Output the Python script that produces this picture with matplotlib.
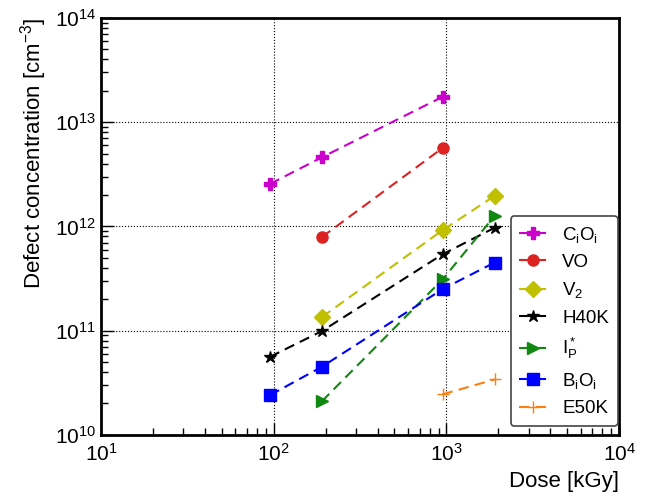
import matplotlib
matplotlib.use("Agg")
import matplotlib.pyplot as plt
from matplotlib.ticker import LogLocator, FixedLocator, NullFormatter

plt.rcParams['font.family'] = ['Liberation Sans', 'DejaVu Sans']
plt.rcParams['mathtext.default'] = 'regular'

# dose [kGy] and defect concentration [cm^-3]
dose_cioi = [95, 190, 950]
conc_cioi = [2.55e12, 4.6e12, 1.75e13]
dose_vo = [190, 950]
conc_vo = [7.9e11, 5.65e12]
dose_v2 = [190, 950, 1900]
conc_v2 = [1.35e11, 9.2e11, 1.96e12]
dose_h40k = [95, 190, 950, 1900]
conc_h40k = [5.6e10, 9.9e10, 5.4e11, 9.7e11]
dose_ip = [190, 950, 1900]
conc_ip = [2.1e10, 3.1e11, 1.26e12]
dose_bioi = [95, 190, 950, 1900]
conc_bioi = [2.4e10, 4.5e10, 2.5e11, 4.5e11]
dose_e50k = [950, 1900]
conc_e50k = [2.45e10, 3.4e10]

series = [
    (dose_cioi, conc_cioi, 'C$_i$O$_i$', '#cc00cc', 'P', 9),
    (dose_vo, conc_vo, 'VO', '#dd2222', 'o', 8),
    (dose_v2, conc_v2, 'V$_2$', '#c0c000', 'D', 8),
    (dose_h40k, conc_h40k, 'H40K', 'black', '*', 9),
    (dose_ip, conc_ip, 'I$_P^*$', '#118811', '>', 9),
    (dose_bioi, conc_bioi, 'B$_i$O$_i$', '#0000ff', 's', 8),
    (dose_e50k, conc_e50k, 'E50K', '#ff7f0e', '+', 9),
]

fig = plt.figure(figsize=(6.65, 4.97), dpi=100)
ax = fig.add_axes([0.152, 0.125, 0.779, 0.839])

for x, y, lab, col, mk, ms in series:
    ax.plot(x, y, linestyle='--', color=col, marker=mk, markersize=ms,
            linewidth=1.5, dashes=(5, 3), label=lab)

ax.set_xscale('log')
ax.set_yscale('log')
ax.set_xlim(10, 1e4)
ax.set_ylim(1e10, 1e14)

ax.xaxis.set_major_locator(FixedLocator([10, 100, 1000, 10000]))
ax.yaxis.set_major_locator(FixedLocator([1e10, 1e11, 1e12, 1e13, 1e14]))
ax.set_xticklabels(['$10^{1}$', '$10^{2}$', '$10^{3}$', '$10^{4}$'])
ax.set_yticklabels(['$10^{10}$', '$10^{11}$', '$10^{12}$', '$10^{13}$', '$10^{14}$'])
ax.xaxis.set_minor_locator(LogLocator(base=10, subs=range(2, 10)))
ax.yaxis.set_minor_locator(LogLocator(base=10, subs=range(2, 10)))
ax.xaxis.set_minor_formatter(NullFormatter())
ax.yaxis.set_minor_formatter(NullFormatter())

ax.tick_params(which='both', direction='in', labelsize=15)
ax.tick_params(which='major', length=9, width=1)
ax.tick_params(which='minor', length=5, width=1)
ax.tick_params(axis='x', pad=6)
for s in ax.spines.values():
    s.set_linewidth(2)

ax.grid(True, which='major', linestyle=':', color='black', linewidth=0.8)

ax.set_xlabel('Dose [kGy]', fontsize=16, loc='right')
ax.set_ylabel('Defect concentration [cm$^{-3}$]', fontsize=16, loc='top')

leg = ax.legend(loc='lower right', bbox_to_anchor=(0.997, 0.022), fontsize=13.5,
                fancybox=True, framealpha=1, edgecolor='#444444',
                handlelength=1.5, handletextpad=0.8, labelspacing=0.5,
                borderpad=0.45, borderaxespad=0)
leg.get_frame().set_linewidth(1.2)

fig.savefig('out.png', dpi=100)
